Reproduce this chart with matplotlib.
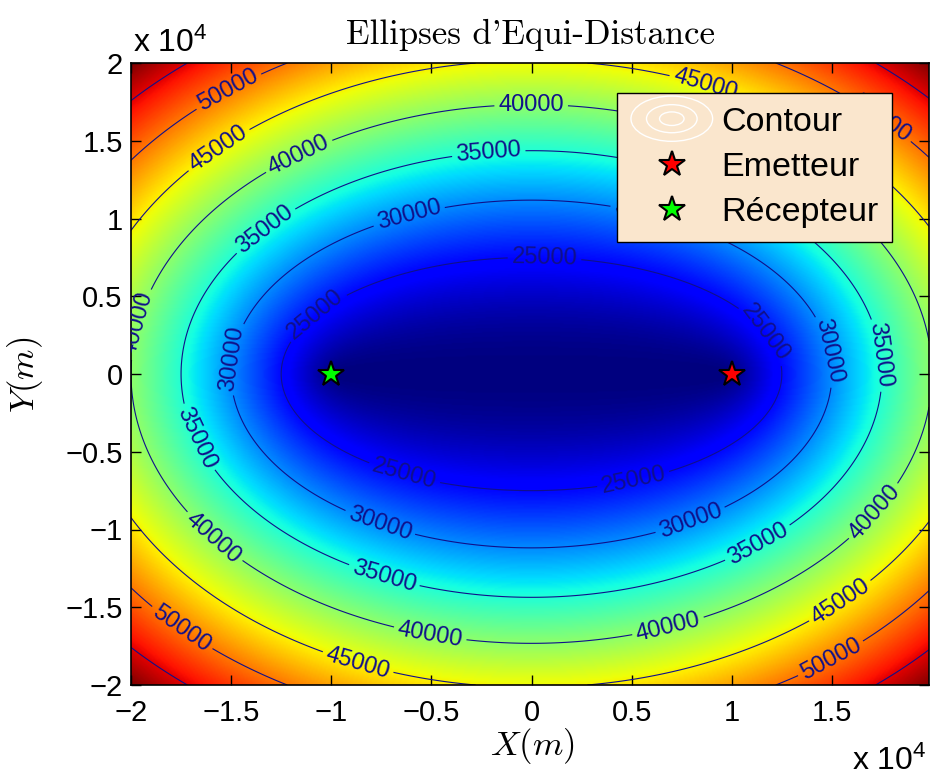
import numpy as np
import matplotlib
matplotlib.use('Agg')
import matplotlib.pyplot as plt
from matplotlib.legend_handler import HandlerBase
from matplotlib.patches import Ellipse
from matplotlib.lines import Line2D

# ---- data ----
emitter = [10000.0, 0.0]        # Emetteur position (m)
receiver = [-10000.0, 0.0]      # Récepteur position (m)
x_limits = [-20000.0, 19850.0]
y_limits = [-20000.0, 20000.0]
contour_levels = [25000, 30000, 35000, 40000, 45000, 50000, 55000]
xtick_values = [-2, -1.5, -1, -0.5, 0, 0.5, 1, 1.5]
ytick_values = [-2, -1.5, -1, -0.5, 0, 0.5, 1, 1.5, 2]
title_text = "Ellipses d'Equi-Distance"
legend_labels = ["Contour", "Emetteur", "Récepteur"]
tick_scale = 1e4

plt.rcParams['font.family'] = ['Liberation Sans', 'DejaVu Sans']
plt.rcParams['mathtext.fontset'] = 'cm'

# bistatic range sum surface
xg = np.linspace(x_limits[0], x_limits[1], 500)
yg = np.linspace(y_limits[0], y_limits[1], 500)
X, Y = np.meshgrid(xg, yg)
R = np.hypot(X - emitter[0], Y - emitter[1]) + np.hypot(X - receiver[0], Y - receiver[1])

fig = plt.figure(figsize=(9.31, 7.78), dpi=100)
ax = fig.add_axes([131/931, (778-685)/778, 798/931, 622/778])

ax.imshow(R, extent=[x_limits[0], x_limits[1], y_limits[0], y_limits[1]],
          origin='lower', aspect='auto', cmap='jet', vmin=R.min(), vmax=R.max(),
          interpolation='bilinear')
ax.set_xlim(x_limits)
ax.set_ylim(y_limits)

line_color = '#10108a'
cs = ax.contour(X, Y, R, levels=contour_levels, colors=line_color, linewidths=0.8)

# MATLAB-like label placement: labels spaced evenly along each contour path
spacing_px = 240.0
positions = []
for segs in cs.allsegs:
    for seg in segs:
        if len(seg) < 2:
            continue
        d = ax.transData.transform(seg)
        step = np.hypot(np.diff(d[:, 0]), np.diff(d[:, 1]))
        cum = np.concatenate([[0], np.cumsum(step)])
        total = cum[-1]
        s = spacing_px * 0.5
        while s < total - 50:
            px = np.interp(s, cum, d[:, 0])
            py = np.interp(s, cum, d[:, 1])
            positions.append(tuple(ax.transData.inverted().transform((px, py))))
            s += spacing_px
ax.clabel(cs, fmt='%d', fontsize=17, colors=line_color, inline=True, inline_spacing=4,
          manual=positions)

ax.plot([emitter[0]], [emitter[1]], linestyle='none', marker='*', markersize=19,
        markerfacecolor='red', markeredgecolor='black', markeredgewidth=1.5, zorder=5)
ax.plot([receiver[0]], [receiver[1]], linestyle='none', marker='*', markersize=19,
        markerfacecolor='#00ff00', markeredgecolor='black', markeredgewidth=1.5, zorder=5)

def fmt(v):
    return f"{v:g}".replace('-', '\u2212')

ax.set_xticks([v * tick_scale for v in xtick_values])
ax.set_xticklabels([fmt(v) for v in xtick_values])
ax.set_yticks([v * tick_scale for v in ytick_values])
ax.set_yticklabels([fmt(v) for v in ytick_values])
ax.tick_params(direction='in', length=7, width=1, top=True, right=True, labelsize=21)
ax.tick_params(axis='x', pad=10)
ax.tick_params(axis='y', pad=6)
for s in ax.spines.values():
    s.set_linewidth(1.2)

ax.set_title(title_text, fontfamily='cmr10', fontsize=25, pad=14)
fig.text(532/931, 1 - 746/778, r'$X(m)$', fontsize=25, ha='center', va='center')
fig.text(25/931, 1 - 375/778, r'$Y(m)$', fontsize=25, ha='center', va='center', rotation=90)

fig.text(133/931, 1 - 52/778, r'x $\mathregular{10^4}$', fontsize=23, ha='left', va='baseline')
fig.text(852/931, 1 - 770/778, r'x $\mathregular{10^4}$', fontsize=23, ha='left', va='baseline')

# legend
class ContourProxy:
    pass

class HandlerEllipses(HandlerBase):
    def create_artists(self, legend, orig_handle, xdescent, ydescent, width, height,
                       fontsize, trans):
        cx = width / 2 - xdescent
        cy = height / 2 - ydescent
        arts = []
        for f in (1.0, 0.62, 0.3):
            e = Ellipse((cx, cy), width * 1.0 * f, height * 1.9 * f, facecolor='none',
                        edgecolor='white', linewidth=1.0, transform=trans)
            arts.append(e)
        return arts

h_em = Line2D([], [], linestyle='none', marker='*', markersize=19, markerfacecolor='red',
              markeredgecolor='black', markeredgewidth=1.5)
h_rc = Line2D([], [], linestyle='none', marker='*', markersize=19, markerfacecolor='#00ff00',
              markeredgecolor='black', markeredgewidth=1.5)
leg = ax.legend([ContourProxy(), h_em, h_rc], legend_labels,
                handler_map={ContourProxy: HandlerEllipses()},
                loc='upper right', bbox_to_anchor=(892/931, 1 - 93/778),
                bbox_transform=fig.transFigure, borderaxespad=0, fontsize=24.5,
                fancybox=False, framealpha=1, facecolor='#fae6cd', edgecolor='black',
                handlelength=2.4, handletextpad=0.25, labelspacing=0.42,
                borderpad=0.4)
leg.get_frame().set_linewidth(1.0)

fig.savefig('out.png', dpi=100)
